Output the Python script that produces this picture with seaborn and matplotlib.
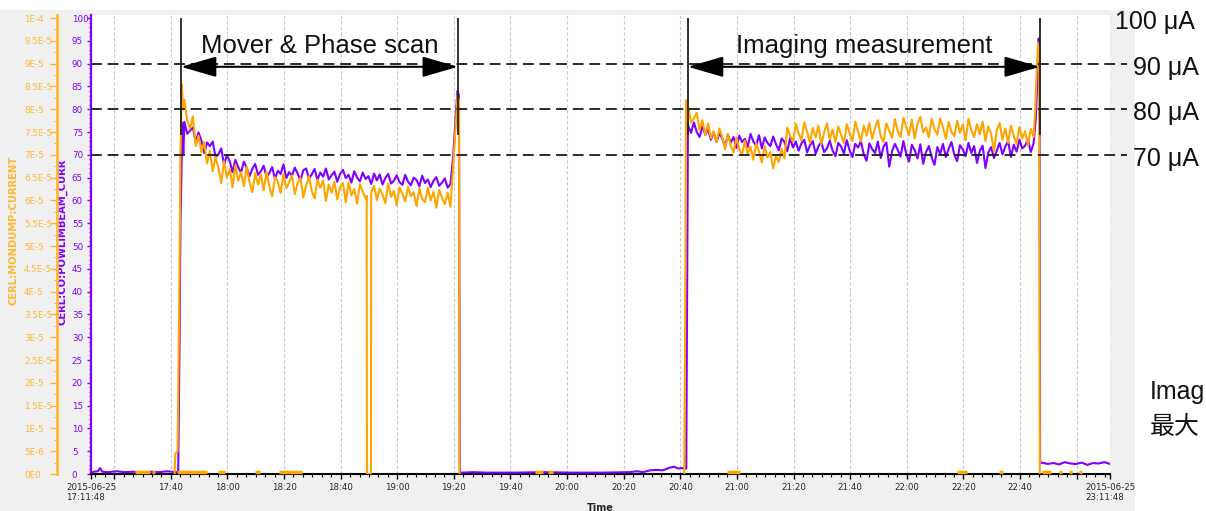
import numpy as np
import pandas as pd
import matplotlib
matplotlib.use("Agg")
import matplotlib.pyplot as plt
import matplotlib.dates as mdates
from matplotlib.patches import Rectangle
from matplotlib.ticker import FixedLocator, FuncFormatter
import seaborn as sns

# ---------------- data (minutes after 2015-06-25 17:11:48, currents in uA) -------------
START = "2015-06-25 17:11:48"
END = "2015-06-25 23:11:48"

# purple: CERL:CO:POWLIMBEAM_CURR
beam_idle1_min = [0, 1, 2.5, 3.2, 4, 6, 9, 12, 15, 18, 21, 24, 27, 30, 30.8]
beam_idle1_uA = [0.3, 0.5, 0.6, 1.3, 0.5, 0.4, 0.6, 0.4, 0.5, 0.3, 0.5, 0.4, 0.6, 0.4, 0.4]
beam_rise1_min = [31.0, 31.3, 31.6, 32.0, 32.3, 32.6]
beam_rise1_uA = [12, 30, 55, 68, 77, 70]
beam_scan_min = list(range(33, 128))
beam_scan_uA = [77.2, 74.6, 75.3, 76.0, 72.8, 74.9, 73.1, 70.4, 72.7, 71.9,
                72.9, 69.5, 70.1, 71.4, 67.8, 69.9, 68.6, 66.2, 68.9, 67.3,
                66.1, 68.5, 67.2, 65.3, 66.9, 68.0, 65.6, 66.4,
                67.6, 65.2, 66.0, 67.3, 64.7, 66.5, 65.8, 67.9, 64.9, 66.2,
                65.4, 67.2, 65.9, 64.3, 66.6, 67.0, 64.8, 65.7, 66.9, 64.5,
                66.1, 65.2, 67.0, 64.6, 65.5, 66.3, 64.1, 65.8, 66.7, 64.9,
                65.6, 63.9, 66.4, 65.0, 64.2, 66.1, 64.7, 65.3, 63.6, 65.9,
                64.4, 65.7, 63.5, 64.9, 65.8, 63.7, 64.3, 65.5, 64.0, 63.4,
                65.6, 64.1, 63.3, 65.0, 64.5, 63.1, 65.4, 63.8, 64.6, 62.9,
                64.3, 65.1, 63.2, 63.9, 64.8, 62.8, 63.6]
beam_fall1_min = [128, 129, 129.5, 130.0, 130.3]
beam_fall1_uA = [70, 80, 84, 83, 0.4]
beam_idle2_min = [131, 135, 140, 150, 160, 170, 180, 190, 193, 195, 197.5, 200,
                  202, 204.5, 206, 207.5, 209, 210.3]
beam_idle2_uA = [0.3, 0.4, 0.3, 0.3, 0.4, 0.3, 0.3, 0.4, 0.6, 0.4, 0.8, 0.9,
                 0.8, 1.4, 1.6, 1.2, 1.3, 1.2]
beam_rise2_min = [210.6, 210.9]
beam_rise2_uA = [40, 77]
beam_meas_min = list(range(211, 334))
beam_meas_uA = [76.3, 74.8, 77.1, 75.0, 73.9, 76.2, 74.4, 75.6, 73.3, 74.9,
                72.9, 74.7, 73.6, 71.8, 74.4, 72.7, 73.9, 71.5, 74.2, 72.8,
                73.5, 71.7, 74.6, 72.9, 72.0, 74.3, 71.4, 73.8, 72.6, 71.9,
                74.0, 72.3, 71.0, 73.6, 72.8, 70.8, 73.7, 71.6, 72.9, 70.9,
                72.5, 73.3, 70.5, 72.1, 73.0, 70.2, 71.9, 72.8, 70.6, 71.4,
                73.1, 70.9, 69.7, 72.6, 71.8, 70.3, 73.2, 71.0, 69.5, 72.4,
                71.6, 73.0, 70.1, 68.7, 72.5, 71.2, 70.4, 72.9, 69.3, 71.8,
                72.7, 67.4, 70.8, 72.4, 71.1, 69.6, 73.0, 70.3, 68.5, 72.2,
                71.0, 69.2, 72.3, 68.0, 70.6, 71.9, 69.4, 67.8, 71.7, 70.2,
                72.4, 69.5, 71.3, 72.8, 70.0, 68.6, 72.1, 71.2, 69.7, 72.6,
                70.4, 71.9, 68.2, 70.8, 72.0, 67.1, 70.5, 71.7, 69.3, 70.9,
                72.6, 70.1, 71.8, 73.0, 69.5, 72.2, 70.7, 73.3, 71.4, 72.0,
                73.4, 70.6, 72.5]
beam_end_min = [333.8, 334.4, 334.8, 335.1, 335.3]
beam_end_uA = [78, 88, 95.5, 93, 2.4]
beam_tail_min = list(range(336, 361, 2))
beam_tail_uA = [2.5, 2.2, 2.4, 2.1, 2.6, 2.3, 2.2, 2.5, 2.0, 2.4, 2.3, 2.6, 2.2]

# orange: CERL:MONDUMP:CURRENT
dump_run1_min = ([29.5, 29.8, 30.6, 31.2, 31.6, 32.1, 32.5] + list(range(33, 98))
                 + [97.4, 97.5, 98.9, 99.0] + list(range(100, 128))
                 + [128, 129, 129.5, 130.0, 130.2])
dump_run1_uA = ([0, 4.5, 5, 40, 70, 85.5, 80]
                + [82.0, 77.5, 75.8, 78.4, 71.9, 74.2, 70.6, 72.8, 68.1, 70.9,
                   66.4, 69.5, 67.2, 63.8, 68.6, 65.0, 66.9, 62.9, 67.8, 64.3,
                   66.2, 63.1, 67.4, 64.0, 61.8, 66.0, 63.5, 65.7,
                   62.2, 66.3, 63.0, 60.9, 65.1, 64.2, 61.6, 65.8, 62.7, 63.9,
                   65.5, 61.4, 63.8, 64.9, 60.6, 63.2, 65.3, 62.0, 60.4, 64.6,
                   62.8, 64.4, 59.9, 63.5, 61.7, 64.1, 60.2, 62.9, 63.8, 59.6,
                   63.9, 61.1, 62.5, 59.3, 63.6, 61.9, 60.4]
                + [61.0, 0, 0, 61.8]
                + [63.2, 60.1, 62.6, 61.2, 59.4, 63.7, 60.8, 62.1, 58.9, 62.9, 61.5,
                   59.8, 63.0, 60.9, 61.8, 58.7, 62.7, 60.3, 59.6, 62.8, 60.0,
                   61.9, 58.4, 62.3, 60.6, 59.2, 61.7, 58.6]
                + [68, 78, 83, 82, 0])
dump_run2_min = ([209.6, 209.9, 210.2, 210.6] + list(range(211, 334))
                 + [333.6, 334.2, 334.6, 335.0, 335.2])
dump_run2_uA = ([0, 30, 82, 80.5]
                + [80.4, 77.1, 78.0, 79.2, 75.4, 77.6, 74.3, 76.9, 73.6, 75.2,
                   72.8, 75.8, 73.9, 71.2, 74.6, 72.0, 70.5, 73.8, 71.3, 69.9,
                   73.1, 70.2, 71.8, 68.9, 72.5, 70.7, 68.3, 71.9, 69.4, 70.6,
                   67.0, 69.8, 68.4, 71.3, 69.2,
                   76.0, 74.1, 72.9, 76.8, 74.7, 73.2, 77.1, 75.0, 72.6, 75.9,
                   73.8, 76.4, 72.3, 74.9, 76.9, 73.4, 75.5, 72.8, 76.2, 74.4,
                   72.6, 76.7, 74.8, 73.0, 77.3, 75.1, 72.9, 76.4, 74.2, 77.0,
                   73.5, 75.9, 77.6, 74.0, 72.8, 76.9, 75.3, 73.7, 77.8, 75.2,
                   73.9, 78.1, 76.2, 74.3, 77.7, 73.6, 76.8, 78.3, 74.9, 76.0,
                   73.8, 77.9, 75.6, 74.4, 78.0, 76.1, 73.5, 77.2, 75.0, 74.1,
                   77.5, 74.8, 76.6, 73.2, 77.9, 75.4, 73.9, 76.7, 74.5, 77.3,
                   73.0, 76.2, 74.6, 70.8, 75.3, 77.0, 73.3, 75.8, 72.6, 76.4,
                   74.1, 72.4, 76.1, 73.6, 75.2, 72.0, 75.7, 73.9]
                + [80, 90, 94.5, 92, 0])
# short orange traces sitting on the zero line (start, end minutes)
dump_zero_start = [15.5, 21.5, 30.4, 44.9, 57.9, 66.4, 156.8, 161.4, 224.7, 305.9, 320.7, 336.0, 342.0, 345.5, 349.0]
dump_zero_end = [20.8, 22.6, 41.0, 47.3, 59.7, 74.5, 159.7, 163.2, 229.2, 309.4, 322.2, 339.0, 343.0, 346.5, 350.0]

# annotations
ref_levels = [70, 80, 90]
right_labels = ["100 μA", "90 μA", "80 μA", "70 μA"]
spans = [(31.8, 129.6, "Mover & Phase scan"), (210.9, 335.2, "Imaging measurement")]
x_tick_times = ["17:11:48", "17:20", "17:40", "18:00", "18:20", "18:40", "19:00", "19:20",
                "19:40", "20:00", "20:20", "20:40", "21:00", "21:20", "21:40", "22:00",
                "22:20", "22:40", "23:00", "23:11:48"]
x_tick_labels = ["2015-06-25\n17:11:48", "", "17:40", "18:00", "18:20", "18:40", "19:00",
                 "19:20", "19:40", "20:00", "20:20", "20:40", "21:00", "21:20", "21:40",
                 "22:00", "22:20", "22:40", "", "2015-06-25\n23:11:48"]

# ---------------- build tables -------------
t0 = pd.Timestamp(START)
t1 = pd.Timestamp(END)


def at(minutes):
    return t0 + pd.to_timedelta(np.asarray(minutes, dtype=float), unit="m")


beam_min = (beam_idle1_min + beam_rise1_min + beam_scan_min + beam_fall1_min + beam_idle2_min
            + beam_rise2_min + beam_meas_min + beam_end_min + beam_tail_min)
beam_uA = (beam_idle1_uA + beam_rise1_uA + beam_scan_uA + beam_fall1_uA + beam_idle2_uA
           + beam_rise2_uA + beam_meas_uA + beam_end_uA + beam_tail_uA)
beam = pd.DataFrame({"time": at(beam_min), "uA": beam_uA})
dump = pd.concat([
    pd.DataFrame({"time": at(dump_run1_min), "uA": dump_run1_uA, "run": 1}),
    pd.DataFrame({"time": at(dump_run2_min), "uA": dump_run2_uA, "run": 2}),
])

PURPLE = "#8000ff"
ORANGE = "#ffa500"
ORANGE_AX = "#ffb733"
GRAYBG = "#f0f0f0"

sns.set_style("white")
plt.rcParams["font.family"] = ["DejaVu Sans"]

W, H = 1206, 511
fig = plt.figure(figsize=(W / 100, H / 100), dpi=100, facecolor="white")
fig.patches.append(Rectangle((0, 0), 1135 / W, (H - 10) / H, transform=fig.transFigure,
                             facecolor=GRAYBG, edgecolor="none", zorder=-10))

ax_top, ax_bot = 15, 474
ax = fig.add_axes([91 / W, (H - ax_bot) / H, 1019 / W, (ax_bot - ax_top) / H])
ax.set_facecolor("white")
ymax = 100 * (ax_bot - ax_top) / (ax_bot - 18)

sns.lineplot(data=beam, x="time", y="uA", ax=ax, color=PURPLE, lw=1.5,
             estimator=None, sort=False, zorder=3)
sns.lineplot(data=dump, x="time", y="uA", units="run", ax=ax, color=ORANGE, lw=1.5,
             estimator=None, sort=False, zorder=4)
zs = mdates.date2num(at(dump_zero_start))
ze = mdates.date2num(at(dump_zero_end))
ax.hlines(np.full(len(zs), 0.35), zs, ze, color=ORANGE, lw=2.5, zorder=4, clip_on=False)

ax.set_xlim(t0, t1)
ax.set_ylim(0, ymax)

# x axis
tick_pos = mdates.date2num([t0 if s == "17:11:48" else (t1 if s == "23:11:48" else
                            pd.Timestamp("2015-06-25 " + s)) for s in x_tick_times])
ax.set_xticks(tick_pos, labels=x_tick_labels)
minor = mdates.date2num(pd.date_range("2015-06-25 17:13:20", "2015-06-25 23:10:00", freq="200s"))
ax.xaxis.set_minor_locator(FixedLocator(minor))
for lbl in ax.get_xticklabels():
    lbl.set_multialignment("left")
ax.tick_params(axis="x", which="major", direction="out", length=3.5, width=1, color="black",
               labelsize=6.2, pad=3, bottom=True)
ax.tick_params(axis="x", which="minor", direction="out", length=2, width=0.8, color="black",
               bottom=True)
ax.grid(axis="x", which="major", color="#c8c8c8", ls=(0, (3, 2)), lw=0.8)
ax.grid(axis="y", visible=False)
ax.set_xlabel("Time", fontsize=7, fontweight="bold", labelpad=0.3)

# purple y axis
ax.yaxis.set_major_locator(FixedLocator(np.arange(0, 101, 5)))
ax.yaxis.set_minor_locator(FixedLocator(np.arange(0, 101, 1)))
ax.tick_params(axis="y", which="major", direction="out", length=3, width=1, color=PURPLE,
               labelcolor=PURPLE, labelsize=6.3, pad=10.8, left=True)
ax.tick_params(axis="y", which="minor", direction="out", length=1.8, width=0.8, color=PURPLE,
               left=True)
ax.set_ylabel("CERL:CO:POWLIMBEAM_CURR", color=PURPLE, fontsize=7.2, fontweight="bold")
ax.yaxis.set_label_coords((67 - 91) / 1019, (ax_bot - 242) / (ax_bot - ax_top))
for s in ["top", "right"]:
    ax.spines[s].set_visible(False)
ax.spines["left"].set_color(PURPLE)
ax.spines["left"].set_linewidth(1.6)
ax.spines["bottom"].set_color("black")
ax.spines["bottom"].set_linewidth(1.5)

# orange y axis (amperes)
ax2 = ax.twinx()
ax2.set_ylim(0, ymax * 1e-6)
ax2.yaxis.set_ticks_position("left")
ax2.yaxis.set_label_position("left")
ax2.spines["left"].set_position(("outward", 34 * 0.72))
ax2.spines["left"].set_visible(True)
ax2.spines["left"].set_color(ORANGE_AX)
ax2.spines["left"].set_linewidth(2)
for s in ["top", "right", "bottom"]:
    ax2.spines[s].set_visible(False)
ax2.yaxis.set_major_locator(FixedLocator(np.arange(0, 101, 5) * 1e-6))
ax2.yaxis.set_minor_locator(FixedLocator(np.arange(0, 101, 2.5) * 1e-6))


def sci(v, pos):
    if v < 1e-12:
        return "0E0"
    e = int(np.floor(np.log10(v) + 1e-9))
    m = round(v / 10 ** e, 3)
    return f"{m:g}E{e}"


ax2.yaxis.set_major_formatter(FuncFormatter(sci))
ax2.tick_params(axis="y", which="major", direction="out", length=5, width=1, color=ORANGE_AX,
                labelcolor=ORANGE_AX, labelsize=6.3, pad=18.7, left=True, right=False)
ax2.tick_params(axis="y", which="minor", direction="out", length=2.5, width=0.8,
                color=ORANGE_AX, left=True, right=False)
ax2.set_ylabel("CERL:MONDUMP:CURRENT", color=ORANGE_AX, fontsize=7.2, fontweight="bold")
ax2.yaxis.set_label_coords((19 - 91) / 1019, (ax_bot - 230) / (ax_bot - ax_top))
ax2.grid(False)

# annotations drawn on top
xmax_frac = (1127 - 91) / 1019
for lv in ref_levels:
    ax2.plot([0, xmax_frac], [lv * 1e-6] * 2, transform=ax2.get_yaxis_transform(),
             color="#1a1a1a", lw=1.3, ls=(0, (6, 3.2)), clip_on=False, zorder=6)
for a, b, label in spans:
    xa, xb = mdates.date2num(at([a, b]))
    ax2.vlines([xa, xb], 74.3e-6, 100e-6, color="#222222", lw=1.3, zorder=6)
    ax2.annotate("", xy=(xb, 89.3e-6), xytext=(xa, 89.3e-6),
                 arrowprops=dict(arrowstyle="<|-|>,head_length=1.1,head_width=0.32",
                                 mutation_scale=20, lw=1.5, color="black",
                                 shrinkA=0, shrinkB=0), zorder=7)
    ax2.text((xa + xb) / 2, 93.9e-6, label, ha="center", va="center", fontsize=18.5,
             family="Liberation Sans", color="#111111", zorder=7)

right_pos = [(1115, 22), (1133, 68), (1133, 113), (1133, 159)]
for (px, py), txt in zip(right_pos, right_labels):
    fig.text(px / W, 1 - py / H, txt, ha="left", va="center", fontsize=18,
             family="Liberation Sans", color="#111111")
fig.text(1150 / W, 1 - 392 / H, "Imag", ha="left", va="center", fontsize=18,
         family="Liberation Sans", color="#111111")
fig.text(1150 / W, 1 - 427 / H, "最大", ha="left", va="center", fontsize=18,
         family=["Noto Sans CJK JP", "DejaVu Sans"], color="#111111")

for lbl in ax.get_yticklabels():
    lbl.set_horizontalalignment("left")
for lbl in ax2.get_yticklabels():
    lbl.set_horizontalalignment("left")

fig.savefig("out.png", dpi=100, facecolor="white")
